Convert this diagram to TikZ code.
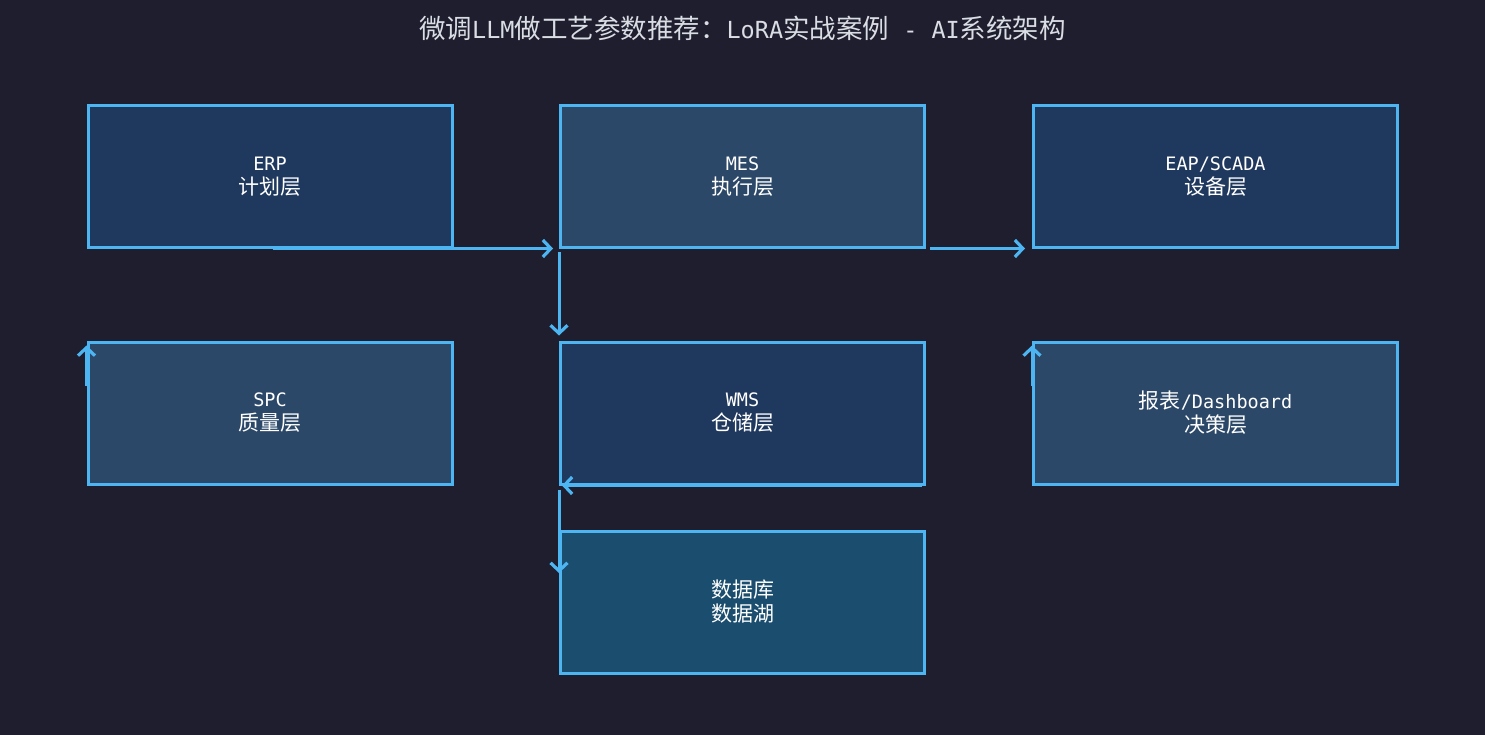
\documentclass[tikz,border=0pt]{standalone}
\usepackage{fontspec}
\setmainfont{Noto Sans CJK SC}
\newfontfamily\mono{DejaVu Sans Mono}
\usetikzlibrary{arrows.meta,calc}
\definecolor{bg}{HTML}{1E1E2E}
\definecolor{edge}{HTML}{4DB6F2}
\definecolor{fillA}{HTML}{1F385E}
\definecolor{fillB}{HTML}{2C4868}
\definecolor{fillC}{HTML}{1B4D6E}
\definecolor{titlec}{HTML}{DADDE3}
\tikzset{
  box/.style={draw=edge, line width=3pt, minimum width=364pt, minimum height=142pt,
    inner sep=0pt, align=center, text=white, font=\fontsize{21}{24}\selectfont},
  conn/.style={draw=edge, line width=3pt, -{Straight Barb[length=8pt,width=17pt,line width=3.2pt]}},
}
\newcommand{\lat}[1]{{\mono\fontsize{18.5}{24}\selectfont #1}}
\newcommand{\tlat}[1]{{\mono\fontsize{23.5}{30}\selectfont #1}}
\begin{document}
\begin{tikzpicture}[x=1pt,y=-1pt]
\fill[bg] (0,0) rectangle (1485,735);
\useasboundingbox (0,0) rectangle (1485,735);
\node[text=titlec, font=\fontsize{26.5}{30}\selectfont, inner sep=0pt] (title) at (742.5,28)
  {微调\tlat{LLM}做工艺参数推荐：\tlat{LoRA}实战案例\tlat{\ - AI}系统架构};
\node[box, fill=fillA] (erp) at (270,177) {\lat{ERP}\\计划层};
\node[box, fill=fillB] (mes) at (742.5,177) {\lat{MES}\\执行层};
\node[box, fill=fillA] (eap) at (1215.5,177) {\lat{EAP/SCADA}\\设备层};
\node[box, fill=fillB] (spc) at (270,413) {\lat{SPC}\\质量层};
\node[box, fill=fillA] (wms) at (742.5,413) {\lat{WMS}\\仓储层};
\node[box, fill=fillB] (dash) at (1215.5,413) {报表\lat{/Dashboard}\\决策层};
\node[box, fill=fillC] (db) at (742.5,602) {数据库\\数据湖};
\draw[conn] ($(erp.south)+(3,-1)$) -- ($(mes.south west)+(-6,-1)$);
\draw[conn] ($(mes.south west)+(0,3)$) -- ($(wms.north west)+(0,-5)$);
\draw[conn] ($(mes.south east)+(4,-1)$) -- ($(eap.south west)+(-7,-1)$);
\draw[conn] ($(spc.west)+(0,-27)$) -- ($(spc.north west)+(0,5)$);
\draw[conn] ($(dash.west)+(0,-27)$) -- ($(dash.north west)+(0,5)$);
\draw[conn] ($(wms.south east)+(-4,0)$) -- ($(wms.south west)+(3,0)$);
\draw[conn] ($(wms.south west)+(0,4)$) -- ($(db.west)+(0,-29)$);
\end{tikzpicture}
\end{document}
